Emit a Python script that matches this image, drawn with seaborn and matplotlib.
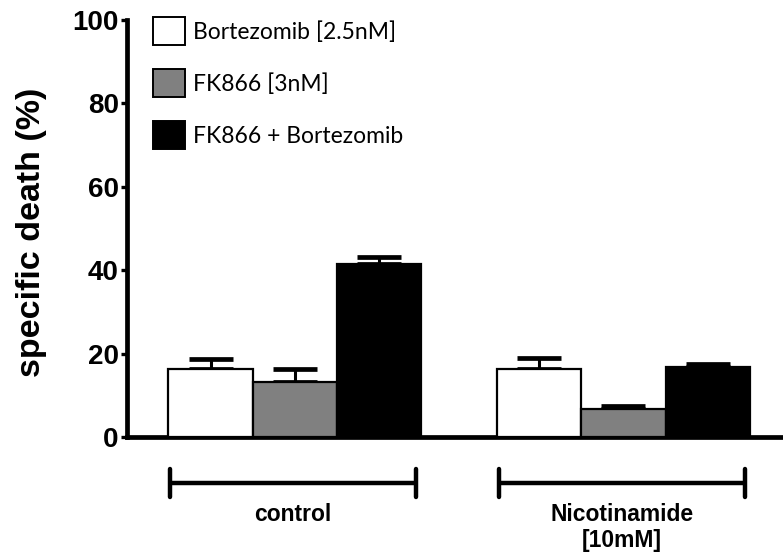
import matplotlib
matplotlib.use("Agg")
import matplotlib.pyplot as plt
import matplotlib.transforms as mtransforms
import seaborn as sns
import pandas as pd
import numpy as np

# ---- data ----
groups = ["control", "Nicotinamide\n[10mM]"]
treatments = ["Bortezomib [2.5nM]", "FK866 [3nM]", "FK866 + Bortezomib"]
bortezomib_vals = [16.3, 16.3]
fk866_vals = [13.2, 6.7]
combo_vals = [41.5, 16.8]
bortezomib_err = [2.4, 2.7]
fk866_err = [3.1, 0.7]
combo_err = [1.7, 0.7]
yticks = [0, 20, 40, 60, 80, 100]
colors = ["white", "#808080", "black"]

values = [bortezomib_vals, fk866_vals, combo_vals]
errors = [bortezomib_err, fk866_err, combo_err]

rows = []
for t, vals in zip(treatments, values):
    for g, v in zip(groups, vals):
        rows.append({"group": g, "treatment": t, "value": v})
df = pd.DataFrame(rows)

sns.set_style("ticks")
plt.rcParams["font.family"] = ["Liberation Sans", "DejaVu Sans"]
plt.rcParams["text.color"] = "black"
plt.rcParams["axes.labelcolor"] = "black"
plt.rcParams["ytick.color"] = "black"
plt.rcParams["xtick.color"] = "black"

fig = plt.figure(figsize=(7.83, 5.56), dpi=100)
ax = fig.add_axes([127 / 783, 1 - 437 / 556, 656 / 783, 417 / 556])

sns.barplot(data=df, x="group", y="value", hue="treatment", hue_order=treatments,
            order=groups, palette=colors, edgecolor="black", linewidth=1.6,
            errorbar=None, width=0.77, gap=0, ax=ax, zorder=3)

# upward-only error bars at bar centres
for cont, errs in zip(ax.containers, errors):
    xs = [p.get_x() + p.get_width() / 2 for p in cont.patches]
    hs = [p.get_height() for p in cont.patches]
    ax.errorbar(xs, hs, yerr=[np.zeros(len(errs)), errs], fmt="none",
                ecolor="black", elinewidth=2.2, capsize=16, capthick=3.4, zorder=2)

ax.set_ylim(0, 100)
ax.set_xlim(-0.511, 1.486)
ax.set_yticks(yticks)
ax.set_yticklabels([str(v) for v in yticks], fontsize=20, fontweight="bold", color="black")
ax.set_xticks([])
ax.set_xlabel("")
ax.set_ylabel("specific death (%)", fontsize=24.5, fontweight="bold", color="black")
ax.yaxis.set_label_coords(-0.122, 0.49)
ax.tick_params(axis="y", direction="out", length=4, width=2.4, pad=2, color="black",
               labelcolor="black")

for s in ["top", "right"]:
    ax.spines[s].set_visible(False)
for s in ["left", "bottom"]:
    ax.spines[s].set_linewidth(3.4)
    ax.spines[s].set_color("black")

# group brackets below axis
trans = mtransforms.blended_transform_factory(ax.transData, ax.transAxes)
for i, g in enumerate(groups):
    x0, x1 = i - 0.38, i + 0.37
    yb = -0.110
    ax.plot([x0, x1], [yb, yb], color="black", lw=3.2, transform=trans, clip_on=False,
            solid_capstyle="butt")
    for xe in (x0, x1):
        ax.plot([xe, xe], [yb - 0.034, yb + 0.034], color="black", lw=3.2,
                transform=trans, clip_on=False, solid_capstyle="round")
    ax.text(i - 0.005, -0.158, g, transform=trans, ha="center", va="top",
            fontsize=16.5, fontweight="bold", linespacing=1.15, color="black")

# legend
handles, labels = ax.get_legend_handles_labels()
leg = ax.legend(handles, labels, loc="upper left", bbox_to_anchor=(0.0396, 1.007),
                frameon=False, borderpad=0, borderaxespad=0, handlelength=1.4,
                handleheight=1.5, labelspacing=1.05, handletextpad=0.35,
                prop={"family": "Lato", "size": 16.5})
for t in leg.get_texts():
    t.set_color("black")
for h in leg.legend_handles:
    h.set_edgecolor("black")
    h.set_linewidth(1.4)

fig.savefig("out.png", dpi=100)
